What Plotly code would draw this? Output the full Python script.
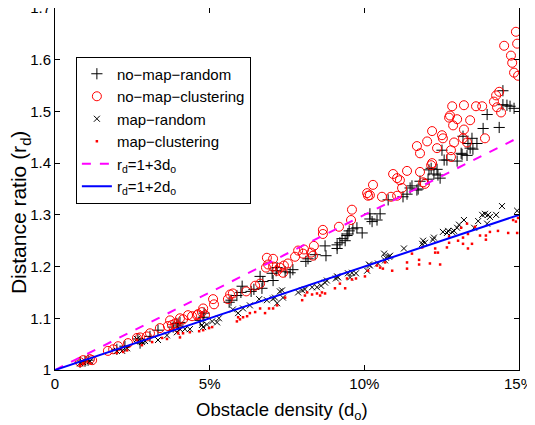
import plotly.graph_objects as go

# ---------------- data (obstacle density in %, distance ratio) ----------------
nmc_x = [14.90, 14.94, 14.52, 14.74, 14.78, 14.84, 14.97, 14.36, 14.26, 14.19, 14.29, 14.42,
         12.84, 13.22, 13.61, 13.81, 12.74, 12.77, 13.00, 13.42, 12.87, 13.22, 13.19, 13.90, 12.54,
         12.19, 12.51, 12.90, 11.70, 12.03, 11.80, 13.32, 12.35, 12.80, 12.80,
         10.28, 10.18, 11.38, 11.80, 10.93, 11.06, 11.15, 12.19, 12.16, 11.22, 11.90, 11.96,
         10.57, 10.86, 11.06, 10.09, 10.12,
         9.60, 9.57, 9.18, 8.66, 8.66, 8.37, 8.05, 7.86, 8.02, 8.28, 8.34,
         7.05, 7.53, 7.27, 7.18, 7.37, 7.05, 7.76, 6.85, 6.89, 7.40, 6.82,
         6.63, 6.47, 6.18, 5.66, 5.75, 5.59, 5.11, 5.14, 4.79, 4.75, 4.62, 4.59, 4.43, 4.85,
         4.14, 3.88, 3.78, 3.94, 4.30, 4.04, 3.72, 3.65, 3.39, 3.07, 2.97, 2.75, 2.65,
         2.36, 2.04, 1.88, 1.71, 1.13, 0.91, 0.81, 1.20]
nmc_y = [1.654, 1.631, 1.627, 1.608, 1.594, 1.575, 1.569, 1.538, 1.531, 1.519, 1.508, 1.498,
         1.510, 1.512, 1.510, 1.510, 1.488, 1.492, 1.485, 1.483, 1.473, 1.465, 1.448, 1.448, 1.448,
         1.462, 1.454, 1.440, 1.433, 1.442, 1.419, 1.440, 1.429, 1.425, 1.412,
         1.358, 1.338, 1.385, 1.383, 1.379, 1.371, 1.367, 1.400, 1.396, 1.352, 1.363, 1.360,
         1.335, 1.335, 1.337, 1.342, 1.337,
         1.310, 1.290, 1.277, 1.271, 1.263, 1.240, 1.233, 1.231, 1.225, 1.227, 1.221,
         1.215, 1.206, 1.198, 1.192, 1.188, 1.200, 1.219, 1.217, 1.204, 1.202, 1.198,
         1.167, 1.163, 1.152, 1.146, 1.148, 1.137, 1.137, 1.127, 1.119, 1.112, 1.108, 1.106, 1.104, 1.106,
         1.098, 1.090, 1.087, 1.083, 1.106, 1.100, 1.096, 1.085, 1.081, 1.071, 1.065, 1.063, 1.062,
         1.052, 1.046, 1.040, 1.037, 1.021, 1.019, 1.015, 1.019]

nmr_x = [14.48, 14.48, 14.61, 14.71, 14.84, 13.97, 13.84, 14.36, 13.48, 13.19, 13.35, 13.64,
         13.42, 13.51, 13.16, 13.32, 13.00, 12.67, 12.58, 12.51, 12.35, 12.45, 12.38, 12.06,
         11.80, 11.74, 11.54, 11.48, 11.38, 11.25, 10.77, 10.51, 10.18, 10.25, 10.41,
         9.76, 9.63, 9.93, 9.47, 9.28, 13.13, 12.16, 12.25, 12.09, 11.70, 10.18,
         9.44, 9.38, 9.12, 9.12, 8.76, 8.73, 8.18, 8.11, 7.69, 7.60, 7.18, 7.02, 7.05,
         8.41, 9.21, 9.51, 7.15, 7.44, 6.63, 6.72, 6.69, 6.43, 6.34, 6.05, 6.01, 5.88,
         5.69, 5.63, 4.82, 4.79, 4.69, 4.04, 3.98, 3.82, 3.33, 3.94, 2.68, 2.75, 2.00,
         0.81, 0.97, 1.07, 2.26, 3.07]
nmr_y = [1.540, 1.513, 1.512, 1.510, 1.506, 1.494, 1.467, 1.469, 1.448, 1.452, 1.438, 1.438,
         1.429, 1.427, 1.417, 1.415, 1.404, 1.406, 1.406, 1.425, 1.388, 1.371, 1.377, 1.369,
         1.365, 1.350, 1.356, 1.352, 1.340, 1.335, 1.329, 1.302, 1.302, 1.287, 1.290,
         1.275, 1.273, 1.265, 1.263, 1.254, 1.419, 1.390, 1.379, 1.387, 1.348, 1.292,
         1.260, 1.250, 1.242, 1.235, 1.221, 1.240, 1.215, 1.210, 1.194, 1.188, 1.198, 1.187, 1.173,
         1.223, 1.246, 1.269, 1.192, 1.190, 1.181, 1.171, 1.158, 1.156, 1.152, 1.162, 1.150, 1.144,
         1.135, 1.131, 1.110, 1.102, 1.096, 1.092, 1.087, 1.083, 1.077, 1.090, 1.060, 1.052, 1.040,
         1.015, 1.017, 1.019, 1.046, 1.065]

mr_x = [14.94, 14.45, 14.26, 14.00, 14.06, 13.90, 13.81, 13.68, 13.55, 13.22, 13.06, 13.00,
        12.90, 12.84, 12.71, 12.67, 12.54, 13.97, 12.25, 12.22, 11.90, 11.96, 11.87, 11.28,
        10.80, 10.70, 10.83, 10.67, 10.15, 9.60, 9.47, 9.12, 9.08, 8.79, 8.60, 8.47, 8.31,
        8.08, 7.99, 10.64, 10.44, 10.18, 10.09, 9.73, 9.54, 9.15, 8.73, 7.86, 7.34, 7.37, 7.05,
        7.27, 7.11, 7.18, 6.85, 6.60, 6.30, 6.08, 5.92, 5.75, 5.30, 5.24, 5.08, 4.91, 4.75,
        4.79, 4.36, 4.20, 4.04, 3.94, 3.62, 3.33, 2.91, 2.81, 2.65, 2.33, 2.17, 2.00,
        1.13, 0.91, 0.81]
mr_y = [1.308, 1.317, 1.300, 1.300, 1.296, 1.302, 1.300, 1.288, 1.275, 1.290, 1.281, 1.275,
        1.269, 1.267, 1.269, 1.265, 1.267, 1.283, 1.256, 1.252, 1.250, 1.246, 1.244, 1.235,
        1.219, 1.217, 1.221, 1.212, 1.204, 1.188, 1.187, 1.181, 1.177, 1.173, 1.163, 1.160, 1.160,
        1.156, 1.154, 1.225, 1.206, 1.202, 1.192, 1.187, 1.179, 1.179, 1.169, 1.150, 1.154, 1.140, 1.138,
        1.152, 1.140, 1.129, 1.135, 1.137, 1.125, 1.119, 1.110, 1.117, 1.100, 1.092, 1.094, 1.088, 1.087,
        1.083, 1.079, 1.079, 1.079, 1.073, 1.067, 1.058, 1.056, 1.054, 1.060, 1.042, 1.037, 1.037,
        1.017, 1.015, 1.013]

mc_x = [14.90, 14.97, 14.94, 14.65, 14.32, 14.06, 13.93, 13.93, 13.74, 13.48, 13.35, 13.35,
        13.19, 13.13, 13.19, 12.74, 12.67, 12.45, 13.58, 13.32, 14.81, 13.03, 12.74, 12.38,
        12.29, 12.29, 12.12, 11.87, 11.77, 11.77, 11.54, 11.38, 11.38, 10.90, 10.60, 10.41,
        10.12, 10.02, 9.60, 9.38, 9.21, 9.05, 8.63, 8.47, 8.31, 8.15, 7.99, 10.67, 10.51,
        9.73, 9.44, 8.73, 8.57, 8.08, 7.44, 7.18, 7.05, 6.92, 6.79, 6.63, 6.47, 6.30, 6.21,
        6.08, 5.92, 5.98, 5.88, 5.08, 4.98, 4.79, 4.66, 4.36, 4.14, 3.98, 4.04, 3.72, 3.62,
        3.46, 3.14, 2.65, 2.81, 2.33, 2.20, 2.00, 1.13, 0.91, 0.81]
mc_y = [1.287, 1.294, 1.265, 1.265, 1.269, 1.267, 1.260, 1.252, 1.260, 1.244, 1.235, 1.263,
        1.256, 1.275, 1.244, 1.246, 1.237, 1.204, 1.277, 1.283, 1.290, 1.250, 1.258, 1.227,
        1.227, 1.235, 1.206, 1.237, 1.213, 1.204, 1.225, 1.208, 1.196, 1.192, 1.196, 1.202,
        1.192, 1.181, 1.175, 1.158, 1.167, 1.158, 1.150, 1.148, 1.146, 1.150, 1.135, 1.208, 1.198,
        1.177, 1.177, 1.148, 1.144, 1.144, 1.140, 1.125, 1.119, 1.119, 1.110, 1.119, 1.112, 1.110, 1.104,
        1.102, 1.102, 1.098, 1.094, 1.083, 1.081, 1.077, 1.075, 1.073, 1.071, 1.071, 1.063, 1.077, 1.060,
        1.062, 1.054, 1.058, 1.048, 1.038, 1.035, 1.033, 1.013, 1.013, 1.010]

line_x = [0, 15]
slope3 = 3
slope2 = 2

x_tickvals = [0, 5, 10, 15]
x_ticktext = ["0", "5%", "10%", "15%"]
y_tickvals = [1, 1.1, 1.2, 1.3, 1.4, 1.5, 1.6, 1.7]
y_ticktext = ["1", "1.1", "1.2", "1.3", "1.4", "1.5", "1.6", "1.7"]

x_title = "Obstacle density (d<sub>o</sub>)"
y_title = "Distance ratio (r<sub>d</sub>)"

FONT = "Liberation Sans, Arial, Helvetica, sans-serif"

fig = go.Figure()
fig.add_trace(go.Scatter(x=nmr_x, y=nmr_y, mode="markers", name="no\u2212map\u2212random",
                         marker=dict(symbol="cross-thin", size=8, color="black",
                                     line=dict(color="black", width=1))))
fig.add_trace(go.Scatter(x=nmc_x, y=nmc_y, mode="markers", name="no\u2212map\u2212clustering",
                         marker=dict(symbol="circle-open", size=9, color="red",
                                     line=dict(color="red", width=1))))
fig.add_trace(go.Scatter(x=mr_x, y=mr_y, mode="markers", name="map\u2212random",
                         marker=dict(symbol="x-thin", size=6, color="black",
                                     line=dict(color="black", width=1))))
fig.add_trace(go.Scatter(x=mc_x, y=mc_y, mode="markers", name="map\u2212clustering",
                         marker=dict(symbol="square", size=2.5, color="red",
                                     line=dict(width=0))))
fig.add_trace(go.Scatter(x=line_x, y=[1 + slope3 * v / 100 for v in line_x], mode="lines",
                         name="r<sub>d</sub>=1+3d<sub>o</sub>",
                         line=dict(color="#ff00ff", width=2, dash="dash")))
fig.add_trace(go.Scatter(x=line_x, y=[1 + slope2 * v / 100 for v in line_x], mode="lines",
                         name="r<sub>d</sub>=1+2d<sub>o</sub>",
                         line=dict(color="#0000ff", width=2)))

axis_common = dict(showline=True, linecolor="black", linewidth=1, mirror="ticks",
                   ticks="inside", ticklen=5, tickcolor="black", showgrid=False,
                   zeroline=False, ticklabeloverflow="allow", automargin=False,
                   tickfont=dict(family=FONT, size=15, color="black"))

# the page body adds an 8px offset, so margins are set to compensate
fig.update_layout(
    width=535, height=425,
    margin=dict(l=47, r=24, t=0, b=63, autoexpand=False),
    paper_bgcolor="white", plot_bgcolor="white",
    font=dict(family=FONT, size=15, color="black"),
    showlegend=True,
    legend=dict(x=0.045, y=0.866, xanchor="left", yanchor="top",
                bordercolor="black", borderwidth=1, bgcolor="white",
                font=dict(family=FONT, size=15, color="black"),
                tracegroupgap=0, itemwidth=30),
    xaxis=dict(range=[0, 15], tickvals=x_tickvals, ticktext=x_ticktext, **axis_common),
    yaxis=dict(range=[1, 1.7], tickvals=y_tickvals, ticktext=y_ticktext, **axis_common),
    annotations=[
        dict(text=x_title, xref="paper", yref="paper", x=0.489, y=-0.074,
             xanchor="center", yanchor="top", showarrow=False,
             font=dict(family=FONT, size=18.5, color="black")),
        dict(text=y_title, xref="paper", yref="paper", x=-0.075, y=0.434,
             xanchor="center", yanchor="middle", showarrow=False, textangle=-90,
             font=dict(family=FONT, size=21, color="black")),
    ],
)

fig.write_html("out.html")
